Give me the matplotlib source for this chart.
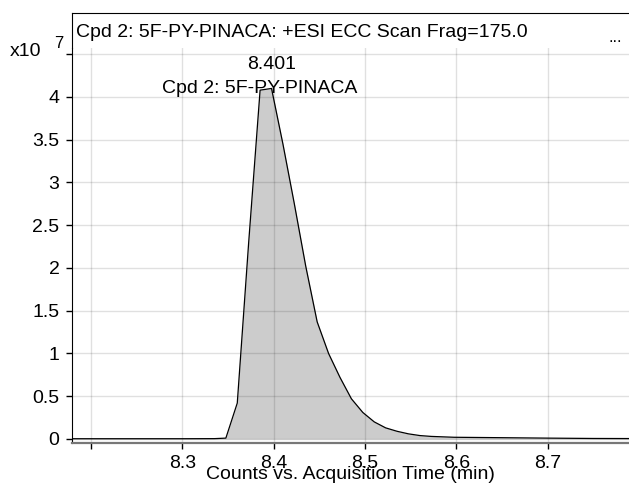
import matplotlib
matplotlib.use("Agg")
import matplotlib.pyplot as plt
import numpy as np

plt.rcParams['font.family'] = ['Liberation Sans', 'DejaVu Sans']

# Data (counts in units of 1e7)
time_min = [8.179, 8.20, 8.25, 8.30, 8.335, 8.3475, 8.360, 8.3725, 8.385, 8.3975,
            8.410, 8.4225, 8.435, 8.4475, 8.460, 8.4725, 8.485, 8.4975, 8.510,
            8.5225, 8.535, 8.5475, 8.560, 8.5725, 8.585, 8.5975, 8.65, 8.70, 8.75, 8.789]
counts_e7 = [0.003, 0.003, 0.003, 0.003, 0.004, 0.01, 0.42, 2.30, 4.08, 4.10,
             3.45, 2.75, 2.02, 1.37, 1.00, 0.72, 0.47, 0.31, 0.20,
             0.13, 0.09, 0.06, 0.04, 0.03, 0.025, 0.02, 0.015, 0.01, 0.006, 0.005]

xticks = [8.2, 8.3, 8.4, 8.5, 8.6, 8.7]
xtick_labels = ['', '8.3', '8.4', '8.5', '8.6', '8.7']
yticks = [0, 0.5, 1, 1.5, 2, 2.5, 3, 3.5, 4, 4.5]
ytick_labels = ['0', '0.5', '1', '1.5', '2', '2.5', '3', '3.5', '4', '']

title = "Cpd 2: 5F-PY-PINACA: +ESI ECC Scan Frag=175.0"
compound = "Cpd 2: 5F-PY-PINACA"
peak_rt = 8.401
xlabel = "Counts vs. Acquisition Time (min)"

W, H = 629, 484
fig = plt.figure(figsize=(W / 100, H / 100), dpi=100)

left = 72 / W
bottom = 1 - 443 / H
top_main = 1 - 48 / H
top_frame = 1 - 13 / H

ax = fig.add_axes([left, bottom, 1 - left, top_main - bottom])
ax.set_xlim(8.179, 8.789)
ax.set_ylim(-0.047, 4.573)

ax.fill_between(time_min, counts_e7, 0, color='#cccccc', lw=0, zorder=1)
ax.plot(time_min, counts_e7, color='black', lw=0.9, zorder=3)

ax.set_xticks(xticks)
ax.set_xticklabels(xtick_labels)
ax.set_yticks(yticks)
ax.set_yticklabels(ytick_labels)
ax.grid(True, color='black', alpha=0.12, lw=1.0)
for ln in ax.get_xgridlines() + ax.get_ygridlines():
    ln.set_zorder(2)

ax.tick_params(axis='both', labelsize=14, colors='black', length=4, width=1)
ax.tick_params(axis='y', pad=5)
ax.tick_params(axis='x', pad=5)
for s in ['top', 'right']:
    ax.spines[s].set_visible(False)
ax.spines['left'].set_color('black')
ax.spines['bottom'].set_color('#777777')
ax.spines['bottom'].set_linewidth(1.6)

ax.set_xlabel(xlabel, fontsize=14, labelpad=-5)

# Peak annotations
ipk = int(np.argmax(counts_e7))
ax.annotate(f"{peak_rt:.3f}", xy=(peak_rt, counts_e7[ipk]), xytext=(-2.5, 17.5),
            textcoords='offset points', ha='center', va='center', fontsize=14)
ax.annotate(compound, xy=(peak_rt, counts_e7[ipk]), xytext=(-10.5, 0),
            textcoords='offset points', ha='center', va='center', fontsize=14)

# Title box
axt = fig.add_axes([left, top_main, 1 - left, top_frame - top_main])
axt.set_xticks([])
axt.set_yticks([])
for s in ['bottom', 'right']:
    axt.spines[s].set_visible(False)
axt.patch.set_alpha(0)
axt.text(4 / (W - 72), 0.45, title, transform=axt.transAxes, ha='left', va='center', fontsize=14)
axt.text(0.975, 0.3, "...", transform=axt.transAxes, ha='center', va='center', fontsize=12)

# Exponent label
fig.text(10 / W, 1 - 51 / H, "x10", ha='left', va='center', fontsize=14)
fig.text(59 / W, 1 - 44 / H, "7", ha='center', va='center', fontsize=12)

fig.savefig("out.png", dpi=100)
